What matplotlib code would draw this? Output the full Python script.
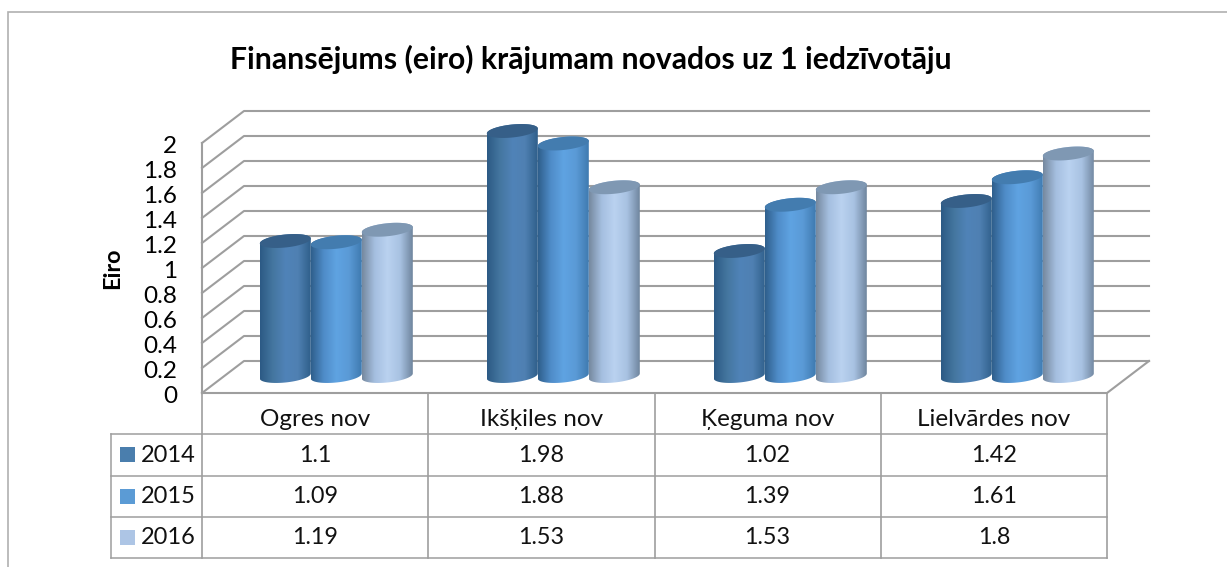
import numpy as np
import matplotlib
matplotlib.use("Agg")
import matplotlib.pyplot as plt
from matplotlib.colors import LinearSegmentedColormap
from matplotlib.patches import Polygon

plt.rcParams['font.family'] = ['Lato', 'DejaVu Sans']

categories = ['Ogres nov', 'Ikšķiles nov', 'Ķeguma nov', 'Lielvārdes nov']
years = ['2014', '2015', '2016']
values_2014 = [1.1, 1.98, 1.02, 1.42]
values_2015 = [1.09, 1.88, 1.39, 1.61]
values_2016 = [1.19, 1.53, 1.53, 1.8]
y_ticks = [0, 0.2, 0.4, 0.6, 0.8, 1, 1.2, 1.4, 1.6, 1.8, 2]

series = [values_2014, values_2015, values_2016]
legend_colors = ['#4a7ead', '#5b9bd5', '#adc5e5']
top_colors = ['#365f88', '#437caf', '#7f98b3']
gradients = [
    ['#2c5a85', '#44769f', '#5083b8', '#4f80b2', '#2f5f8a'],
    ['#2f5f8c', '#4f8cc8', '#5fa3e2', '#5a9ad6', '#3f7ab0'],
    ['#76899f', '#a5bfe0', '#bad2f0', '#a8c2e2', '#6f859e'],
]

W, H = 1227, 567
PX_X = 226.25   # px per category
PX_Y = 125.0    # px per 1 eiro
X0, Y0 = 202, 393
GREY = '#9e9e9e'

fig = plt.figure(figsize=(W / 100, H / 100), dpi=100)
ax = fig.add_axes([0, 0, 1, 1])
ax.axis('off')

# depth of the 3d box in data units
dx = 42 / PX_X
dy = 32 / PX_Y
bar_w = 51 / PX_X
n = len(categories)


def xp(px):
    return (px - X0) / PX_X


def yp(py):
    return (Y0 - py) / PX_Y


# outer frame, right and bottom are cut off in the picture
ax.plot([xp(8), xp(8), xp(W)], [yp(567), yp(12), yp(12)],
        color='#b0b0b0', lw=1.2, solid_joinstyle='miter')

# walls and gridlines
for t in y_ticks:
    ax.plot([0, dx, n + dx], [t, t + dy, t + dy], color=GREY, lw=1.5, zorder=1)
    ax.text(xp(177), t - 3.5 / PX_Y, str(t), ha='right', va='center', fontsize=17.5, color='black')
ax.plot([0, 0], [0, 2], color=GREY, lw=1.5, zorder=1)
ax.plot([0, n, n + dx], [0, 0, dy], color=GREY, lw=1.5, zorder=1)


def ellipse(cx, cy, t):
    # slightly tilted ellipse, left side lower than right
    a = bar_w / 2
    b = 6.5 / PX_Y
    return cx + a * np.cos(t), cy + b * np.sin(t) + 2.5 / PX_Y * np.cos(t)


def draw_cyl(cx, val, s):
    base = dy / 2
    top = base + val - 1.5 / PX_Y
    tb = np.linspace(np.pi, 2 * np.pi, 40)
    tt = np.linspace(0, np.pi, 40)
    xb, yb = ellipse(cx, base + 1 / PX_Y, tb)
    xt, yt = ellipse(cx, top, tt)
    body = Polygon(np.c_[np.r_[xb, xt], np.r_[yb, yt]], closed=True, fc='none', ec='none')
    ax.add_patch(body)
    cmap = LinearSegmentedColormap.from_list('g', gradients[s])
    im = ax.imshow(np.linspace(0, 1, 128).reshape(1, -1), cmap=cmap, aspect='auto',
                   extent=(cx - bar_w / 2, cx + bar_w / 2, base - 0.1, top + 0.1),
                   zorder=3 + s * 0.1, interpolation='bilinear')
    im.set_clip_path(body)
    t = np.linspace(0, 2 * np.pi, 80)
    xe, ye = ellipse(cx, top, t)
    ax.fill(xe, ye, color=top_colors[s], zorder=3.05 + s * 0.1, lw=0)


# bar groups sit a touch wider apart than the table columns
for i in range(n):
    for s in range(3):
        cx = xp(336.3) + i * 227 / PX_X + (s - 1) * bar_w
        draw_cyl(cx, series[s][i], s)

# data table
row_ys = [434, 475.5, 517, 558]
for py in row_ys:
    ax.plot([xp(111), n], [yp(py), yp(py)], color=GREY, lw=1.1, zorder=1)
ax.plot([xp(111), xp(111)], [yp(row_ys[0]), yp(row_ys[-1])], color=GREY, lw=1.1)
for i in range(n + 1):
    ax.plot([i, i], [0, yp(row_ys[-1])], color=GREY, lw=1.2)

for i, c in enumerate(categories):
    ax.text(i + 0.5, yp(419), c, ha='center', va='center', fontsize=17.5, color='#111111')
    for s in range(3):
        py = (row_ys[s] + row_ys[s + 1]) / 2
        ax.text(i + 0.5, yp(py + 0.5), str(series[s][i]), ha='center', va='center',
                fontsize=16.8, color='#111111')
for s, y in enumerate(years):
    py = (row_ys[s] + row_ys[s + 1]) / 2
    ax.fill([xp(120), xp(135), xp(135), xp(120)],
            [yp(py - 7.5), yp(py - 7.5), yp(py + 7.5), yp(py + 7.5)], color=legend_colors[s], lw=0)
    ax.text(xp(195.5), yp(py + 0.5), y, ha='right', va='center', fontsize=17, color='#111111')

ax.text(xp(590.5), yp(59), 'Finansējums (eiro) krājumam novados uz 1 iedzīvotāju',
        ha='center', va='center', fontsize=21.7, fontweight='bold', color='black')
ax.text(xp(113), yp(268), 'Eiro', rotation=90, ha='center', va='center',
        fontsize=16.8, fontweight='bold', color='black')

ax.set_xlim(xp(0), xp(W))
ax.set_ylim(yp(H), yp(0))
fig.savefig('out.png', dpi=100)
